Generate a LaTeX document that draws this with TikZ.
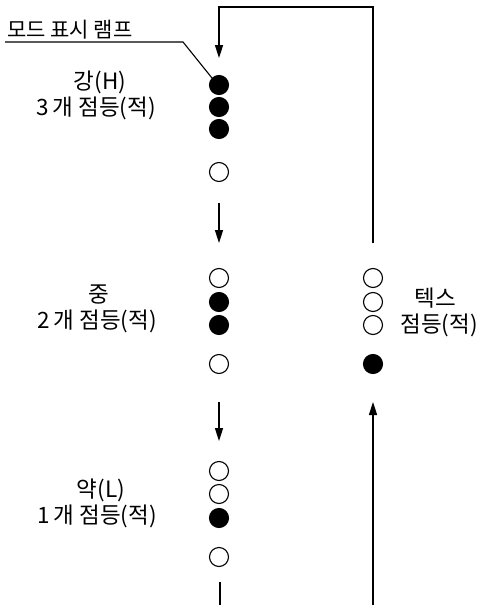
\documentclass[tikz,border=0pt]{standalone}
\usepackage{fontspec}
\setmainfont{Noto Sans CJK KR}
\usetikzlibrary{arrows.meta}
\tikzset{
    lamp/.style={
        circle,
        minimum size=19pt,
        inner sep=0pt,
        line width=1.1pt,
        draw
    },
    lampon/.style={lamp,fill=black},
    lampoff/.style={lamp,fill=white},
    flow/.style={line width=1.6pt,-{Triangle[length=13pt,width=8pt]}},
    wire/.style={line width=1.6pt},
    caption/.style={font=\fontsize{22.5}{26}\selectfont,align=center,inner sep=0pt}
}

\begin{document}
\begin{tikzpicture}[x=1pt,y=-1pt]
        \useasboundingbox (0,0) rectangle (477,605);
        % lamps of the three modes
        \foreach \n/\x/\y/\s in {h1/219/85/lampon,h2/219/107/lampon,h3/219/129/lampon,
            h4/219/172/lampoff,m1/219/278/lampoff,m2/219/302/lampon,m3/219/325/lampon,
            m4/219/364/lampoff,l1/219/471/lampoff,l2/219/494/lampoff,l3/219/518/lampon,
            l4/219/557/lampoff,t1/373/278/lampoff,t2/373/302/lampoff,t3/373/325/lampoff,
            t4/373/364/lampon}
            \node[\s] (\n) at (\x,\y) {};
        % mode texts
        \node[caption] (high) at (96,95) {\hspace*{8pt}강(H)\\3\,개 점등(적)};
        \node[caption] (mid) at (97,309) {\hspace*{4pt}중\\2\,개 점등(적)};
        \node[caption] (low) at (97,503) {\hspace*{8pt}약(L)\\1\,개 점등(적)};
        \node[caption] (tex) at (439,312) {\hspace*{-8pt}텍스\\점등(적)};
        % lamp label
        \node[caption,font=\fontsize{21}{26}\selectfont,anchor=south west] (name) at (7,39) {모드 표시 램프};
        \coordinate (ul) at (5,42);
        \coordinate (uk) at (183,42);
        \draw[line width=1.1pt] (ul) -- (uk) -- (h1.north west);
        % loop back from tex
        \coordinate (tr) at (373,243);
        \coordinate (tc) at (373,7);
        \coordinate (tl) at (219,7);
        \coordinate (hi) at (219,58);
        \draw[flow] (tr) -- (tc) -- (tl) -- (hi);
        % arrows between modes
        \coordinate (a1) at (219,203);
        \coordinate (a2) at (219,243);
        \draw[flow] (a1) -- (a2);
        \coordinate (b1) at (219,402);
        \coordinate (b2) at (219,441);
        \draw[flow] (b1) -- (b2);
        \coordinate (c1) at (220,582);
        \coordinate (c2) at (220,605);
        \draw[wire] (c1) -- (c2);
        \coordinate (d1) at (373,605);
        \coordinate (d2) at (373,402);
        \draw[flow] (d1) -- (d2);
\end{tikzpicture}
\end{document}
